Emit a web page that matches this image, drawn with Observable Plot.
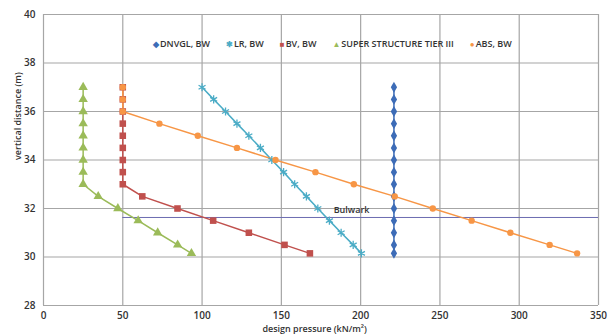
<!DOCTYPE html>
<html><head><meta charset="utf-8">
<script src="https://cdn.jsdelivr.net/npm/d3@7"></script>
<script src="https://cdn.jsdelivr.net/npm/@observablehq/plot@0.6"></script>
<style>
body{margin:0;background:#fff;font-family:"Open Sans",sans-serif;}
#wrap{position:relative;width:610px;height:336px;overflow:hidden;}
#legend{position:absolute;left:153px;top:37px;font-size:9px;font-weight:600;color:#333;white-space:nowrap;display:flex;gap:16px;}
#legend span i{font-style:normal;margin-right:1px;font-size:8px;}
</style></head>
<body><div id="wrap"><div id="legend"></div></div>
<script>
const depths = [37,36.5,36,35.5,35,34.5,34,33.5,33,32.5,32,31.5,31,30.5,30.15];
const dnvglValues = [221,221,221,221,221,221,221,221,221,221,221,221,221,221,221];
const lrValues = [100,107.3,114.8,122,129.5,136.8,144,151.4,158.4,165.8,173,180.3,187.7,195.3,200.5];
const bvValues = [50,50,50,50,50,50,50,50,50,62.3,84.5,107,129.5,152,168];
const superValues = [25,25,25,25,25,25,25,25,25,34.5,46.9,59.7,72,84.6,93.3];
const absValues = [50,50,50,73.1,97.3,122,146.3,171.5,195.7,221.5,245.5,270,294.4,319.2,336.5];
const seriesNames = ["DNVGL, BW","LR, BW","BV, BW","SUPER STRUCTURE TIER III","ABS, BW"];
const seriesColors = ["#3d6cb7","#4bacc6","#c0504d","#9bbb59","#f79646"];
const seriesGlyphs = ["◆","✱","■","▲","●"];
const xTicks = [0,50,100,150,200,250,300,350];
const yTicks = [28,30,32,34,36,38,40];
const bulwarkDepth = 31.63;

const mk = (vals) => depths.map((d,i)=>({x:vals[i], y:d}));
const dn = mk(dnvglValues), lr = mk(lrValues), bv = mk(bvValues), su = mk(superValues), ab = mk(absValues);

const plot = Plot.plot({
  width:610, height:336,
  marginLeft:43, marginRight:12, marginTop:14, marginBottom:31,
  style:{fontFamily:"Open Sans, sans-serif", fontSize:"10px", color:"#333", fontWeight:600},
  x:{domain:[0,350], ticks:xTicks, label:null, tickSize:0, tickPadding:8},
  y:{domain:[28,40], ticks:yTicks, label:null, tickSize:0, tickPadding:8},
  marks:[
    Plot.ruleX(xTicks,{stroke:"#a6a6a6", strokeWidth:1.2}),
    Plot.ruleY(yTicks,{stroke:"#a6a6a6", strokeWidth:1.2}),
    Plot.ruleY([bulwarkDepth],{x1:50, x2:350, stroke:"#6b6bb0", strokeWidth:1}),
    Plot.text(["Bulwark"],{x:183, y:bulwarkDepth, dy:-7, textAnchor:"start", fontSize:9, fill:"#333"}),
    Plot.line(su,{x:"x",y:"y",stroke:seriesColors[3],strokeWidth:1.5}),
    Plot.line(bv,{x:"x",y:"y",stroke:seriesColors[2],strokeWidth:1.5}),
    Plot.line(lr,{x:"x",y:"y",stroke:seriesColors[1],strokeWidth:1.5}),
    Plot.line(dn,{x:"x",y:"y",stroke:seriesColors[0],strokeWidth:1.5}),
    Plot.line(ab,{x:"x",y:"y",stroke:seriesColors[4],strokeWidth:1.5}),
    Plot.dot(su,{x:"x",y:"y",symbol:"triangle",fill:seriesColors[3],r:3.5}),
    Plot.dot(bv,{x:"x",y:"y",symbol:"square",fill:seriesColors[2],r:3.7}),
    Plot.dot(lr,{x:"x",y:"y",symbol:"asterisk",stroke:seriesColors[1],strokeWidth:1.3,r:3.8}),
    Plot.dot(dn,{x:"x",y:"y",symbol:"diamond",fill:seriesColors[0],r:3.3}),
    Plot.dot(ab,{x:"x",y:"y",symbol:"circle",fill:seriesColors[4],r:3.2}),
    Plot.axisX({ticks:xTicks, tickSize:0, tickPadding:6, label:null}),
    Plot.axisY({ticks:yTicks, tickSize:0, tickPadding:8, label:null}),
    Plot.text(["design pressure (kN/m²)"],{frameAnchor:"bottom", x:()=>171, dy:26, fontSize:9, fill:"#333"}),
    Plot.text(["vertical distance (m)"],{frameAnchor:"left", dx:-25, rotate:-90, fontSize:9, fill:"#333"})
  ]
});
document.getElementById("wrap").prepend(plot);
const leg = document.getElementById("legend");
seriesNames.forEach((n,i)=>{
  const s=document.createElement("span");
  s.innerHTML=`<i style="color:${seriesColors[i]}">${seriesGlyphs[i]}</i>${n}`;
  leg.appendChild(s);
});
</script></body></html>
